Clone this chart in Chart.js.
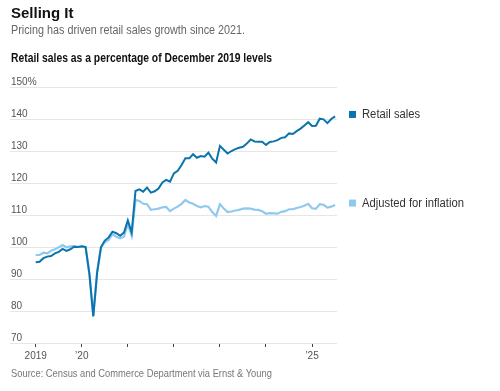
<!DOCTYPE html>
<html>
<head>
<meta charset="utf-8">
<script src="https://cdn.jsdelivr.net/npm/chart.js@4.4.1/dist/chart.umd.min.js"></script>
<style>
  html, body { margin: 0; padding: 0; background: #fff; }
  body { width: 500px; height: 391px; position: relative; overflow: hidden;
         font-family: "Liberation Sans", Arial, sans-serif; }
  .txt { position: absolute; left: 11px; white-space: nowrap; transform-origin: 0 50%; }
  #title { top: 4px; font-size: 15px; font-weight: bold; color: #111; line-height: 18px; }
  #sub { top: 22px; font-size: 12.5px; color: #666; line-height: 17px; transform: scaleX(0.864); }
  #head { top: 50px; font-size: 12px; font-weight: bold; color: #111; line-height: 16px; transform: scaleX(0.862); }
  #source { top: 366px; font-size: 11px; color: #777; line-height: 15px; transform: scaleX(0.85); }
  #wrap { position: absolute; left: 0; top: 0; width: 500px; height: 391px; }
</style>
</head>
<body>
<div id="wrap"><canvas id="chart" width="500" height="391"></canvas></div>
<div class="txt" id="title">Selling It</div>
<div class="txt" id="sub">Pricing has driven retail sales growth since 2021.</div>
<div class="txt" id="head">Retail sales as a percentage of December 2019 levels</div>
<div class="txt" id="source">Source: Census and Commerce Department via Ernst &amp; Young</div>
<script>
// monthly, Jan 2019 .. Jul 2025 (index 0 = Jan 2019)
const retailSales = [
  95.2, 95.4, 96.5, 97.0, 97.2, 98.0, 98.5, 99.4, 98.8, 99.3, 100.1, 100.0,
  100.2, 100.0, 91.5, 78.3, 92.0, 100.0, 102.0, 103.0, 104.8, 104.3, 103.5, 104.5,
  108.3, 104.5, 117.5, 118.0, 117.3, 118.6, 117.0, 117.4, 118.3, 120.2, 121.0, 120.4,
  123.0, 123.8, 125.6, 127.7, 127.7, 129.0, 127.9, 128.4, 128.2, 129.5, 127.6, 126.4,
  131.6, 130.4, 129.2, 130.0, 130.6, 131.0, 131.3, 132.3, 133.6, 133.0, 132.9, 132.9,
  131.9, 132.8, 133.0, 133.4, 134.1, 134.3, 135.5, 135.3, 136.2, 137.0, 138.0, 139.0,
  137.8, 137.9, 140.1, 139.9, 138.7, 140.0, 140.8
];
const adjustedForInflation = [
  97.5, 97.5, 98.2, 98.0, 98.8, 99.3, 99.9, 100.6, 99.9, 100.2, 100.3, 100.0,
  100.1, 100.0, 91.3, 78.5, 92.2, 99.7, 101.5, 102.2, 104.0, 103.2, 102.7, 103.2,
  107.2, 103.5, 114.7, 114.4, 113.5, 113.4, 111.6, 111.8, 112.0, 112.4, 112.5, 111.2,
  112.0, 112.6, 113.5, 114.7, 113.9, 113.5, 112.8, 112.4, 112.8, 112.6, 110.9, 109.7,
  113.4, 112.0, 110.9, 111.1, 111.4, 111.6, 112.0, 112.1, 112.0, 111.7, 111.6, 111.2,
  110.4, 110.6, 110.5, 110.4, 111.0, 111.2, 111.8, 111.8, 112.2, 112.5, 112.9, 113.5,
  112.1, 111.9, 113.4, 113.2, 112.3, 112.6, 113.1
];
const seriesNames = ['Retail sales', 'Adjusted for inflation'];
const yearTicks = [0, 12, 24, 36, 48, 60, 72];
const yearLabels = ['2019', '\u201920', '', '', '', '', '\u201925'];

const DARK = '#0b74ad';
const LIGHT = '#91c9ee';
const FONT = '"Liberation Sans", Arial, sans-serif';

Chart.defaults.font.family = FONT;

// series names drawn at the right end of each line
const endLabels = {
  id: 'endLabels',
  afterDatasetsDraw(chart) {
    const ctx = chart.ctx;
    const y = chart.scales.y;
    ctx.save();
    ctx.font = '12.5px ' + FONT;
    ctx.textBaseline = 'middle';
    chart.data.datasets.forEach(ds => {
      const last = ds.data[ds.data.length - 1];
      const py = y.getPixelForValue(last.y) - 2;
      ctx.fillStyle = ds.borderColor;
      ctx.fillRect(349, py - 3.5, 7, 7);
      ctx.fillStyle = '#333';
      ctx.save();
      ctx.translate(362, py);
      ctx.scale(0.9, 1);
      ctx.fillText(ds.label, 0, 0);
      ctx.restore();
    });
    ctx.restore();
  }
};

new Chart(document.getElementById('chart'), {
  type: 'line',
  data: {
    datasets: [
      {
        label: seriesNames[0],
        data: retailSales.map((v, i) => ({ x: i, y: v })),
        borderColor: DARK, borderWidth: 2, pointRadius: 0, tension: 0
      },
      {
        label: seriesNames[1],
        data: adjustedForInflation.map((v, i) => ({ x: i, y: v })),
        borderColor: LIGHT, borderWidth: 2.2, pointRadius: 0, tension: 0
      }
    ]
  },
  options: {
    responsive: false,
    animation: false,
    layout: { padding: { left: 10, right: 163, top: 87, bottom: 18 } },
    plugins: { legend: { display: false }, tooltip: { enabled: false } },
    scales: {
      x: {
        type: 'linear',
        min: -6.7,
        max: 78.5,
        afterBuildTicks: s => { s.ticks = yearTicks.map(v => ({ value: v })); },
        afterFit: s => { s.height = 30; },
        border: { display: false },
        grid: { drawOnChartArea: false, drawTicks: true, tickLength: 4, color: '#444' },
        ticks: {
          autoSkip: false, maxRotation: 0, padding: 3,
          color: '#555', font: { size: 10 },
          callback: v => yearLabels[yearTicks.indexOf(v)] || ''
        }
      },
      y: {
        min: 70,
        max: 150,
        afterFit: s => { s.width = 0; },
        border: { display: false },
        grid: { color: '#e6e6e6', drawTicks: false },
        ticks: {
          stepSize: 10, mirror: true, padding: 1, labelOffset: -5,
          color: '#555', font: { size: 10 },
          callback: v => v === 150 ? '150%' : String(v)
        }
      }
    }
  },
  plugins: [endLabels]
});
</script>
</body>
</html>
